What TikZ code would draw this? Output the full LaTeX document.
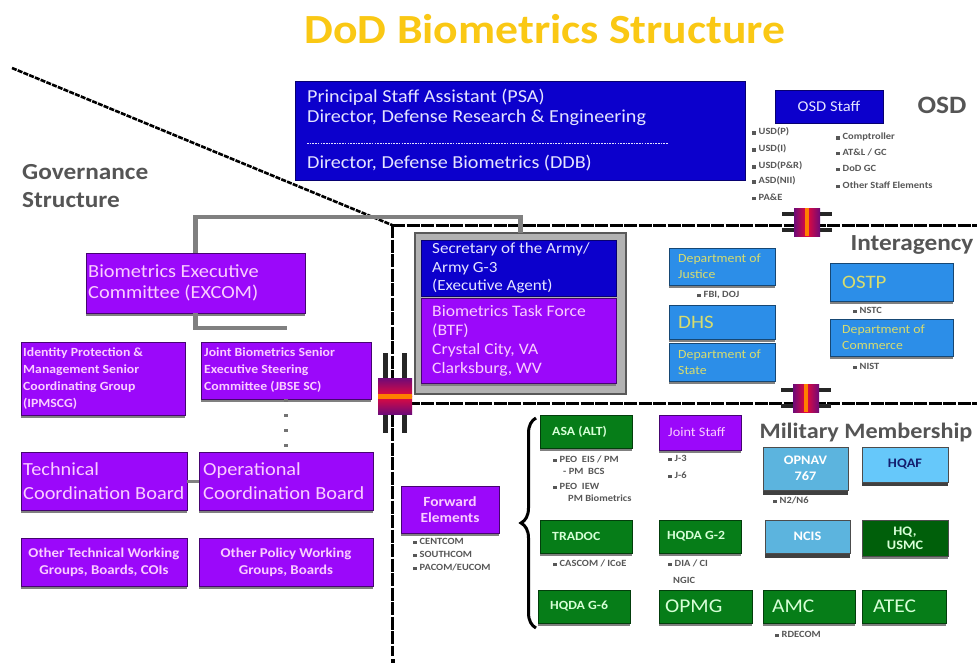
\documentclass[tikz,border=0pt]{standalone}
\usepackage{fontspec}
\setmainfont{Carlito}[FakeStretch=1.1]
\usetikzlibrary{shadows,decorations.pathreplacing,calc}
\definecolor{dodblue}{RGB}{12,0,204}
\definecolor{lav}{RGB}{228,228,255}
\definecolor{purp}{RGB}{155,8,250}
\definecolor{pinkt}{RGB}{250,205,255}
\definecolor{midblue}{RGB}{44,142,232}
\definecolor{yelt}{RGB}{215,220,110}
\definecolor{ltblue}{RGB}{92,180,222}
\definecolor{hqafblue}{RGB}{102,200,250}
\definecolor{navyt}{RGB}{20,30,110}
\definecolor{grn}{RGB}{6,125,24}
\definecolor{dgrn}{RGB}{0,95,10}
\definecolor{grnt}{RGB}{215,255,215}
\definecolor{titley}{RGB}{250,200,20}
\definecolor{lblgray}{RGB}{85,85,85}
\newcommand\fsz[2]{\fontsize{#1}{#2}\selectfont}
% #1 text options, #2 name, #3 box style, #4 x, #5 y, #6 w, #7 h, #8 pad (0 = centred), #9 text
\newcommand\bx[9][]{%
  \node[#3, minimum width=#6pt, minimum height=#7pt] (#2) at (#4,#5) {};
  \ifdim #8pt=0pt
    \node[#3 t, txt, align=center, #1] (#2t) at (#2.center) {#9};
  \else
    \node[#3 t, txt, anchor=west, align=left, #1] (#2t) at ([xshift=#8pt]#2.west) {#9};
  \fi}
\newcommand\bl[4]{\node[bul] (#1) at (#2,#3) {\rule{3.5pt}{3.5pt}\hspace{3pt}#4};}
\newcommand\blc[4]{\node[bul] (#1) at (#2,#3) {#4};}
\tikzset{
  txt/.style={inner sep=0pt},
  box/.style={anchor=north west, inner sep=0pt, outer sep=0pt, line width=0.8pt},
  shad/.style={drop shadow={shadow xshift=0pt, shadow yshift=-3pt, opacity=1, fill=black!50}},
  bluebox/.style={box, fill=dodblue, draw=dodblue!55!black},
  bluebox t/.style={text=lav},
  purpbox/.style={box, fill=purp, draw=purp!45!black, shad},
  purpbox t/.style={text=pinkt},
  midbox/.style={box, fill=midblue, draw=midblue!50!black, shad},
  midbox t/.style={text=yelt},
  ltbox/.style={box, fill=ltblue, draw=black!70, drop shadow={shadow xshift=0pt, shadow yshift=-5pt, opacity=1, fill=black!75}},
  ltbox t/.style={text=white},
  hqafbox/.style={box, fill=hqafblue, draw=black!70, drop shadow={shadow xshift=0pt, shadow yshift=-4pt, opacity=1, fill=black!75}},
  hqafbox t/.style={text=navyt},
  grnbox/.style={box, fill=grn, draw=grn!50!black, shad},
  grnbox t/.style={text=grnt},
  dgrnbox/.style={box, fill=dgrn, draw=black!70, shad},
  dgrnbox t/.style={text=grnt},
  bul/.style={anchor=west, inner sep=0pt, text=black!66, font=\fsz{9.5}{10}\bfseries},
  lbl/.style={inner sep=0pt, text=lblgray, font=\fsz{23}{28}\bfseries},
  govline/.style={line width=3pt, black, dash pattern=on 13pt off 1.5pt},
  diagline/.style={line width=2.6pt, black, dash pattern=on 5pt off 1.2pt},
  conn/.style={line width=4.5pt, black!50},
  couplerH/.pic={
    \fill[black!85] (-12,-43) rectangle (-7,37);
    \fill[black!85] (7,-43) rectangle (12,37);
    \shade[top color={rgb,255:red,110;green,10;blue,120}, bottom color={rgb,255:red,230;green,10;blue,60}] (-17,-18) rectangle (17,0);
    \shade[top color={rgb,255:red,230;green,10;blue,60}, bottom color={rgb,255:red,110;green,10;blue,120}] (-17,0) rectangle (17,18);
    \fill[orange] (-17,-2.5) rectangle (17,2.5);
  },
  couplerV/.pic={
    \fill[black!85] (-25,-10) rectangle (25,-6);
    \fill[black!85] (-25,6) rectangle (25,10);
    \shade[left color={rgb,255:red,110;green,10;blue,120}, right color={rgb,255:red,230;green,10;blue,60}] (-13,-14) rectangle (0,14);
    \shade[left color={rgb,255:red,230;green,10;blue,60}, right color={rgb,255:red,110;green,10;blue,120}] (0,-14) rectangle (13,14);
    \fill[orange] (-2,-14) rectangle (2,14);
  }
}
\begin{document}
\begin{tikzpicture}[x=1pt,y=-1pt]
\useasboundingbox (0,0) rectangle (977,664);
\fill[white] (0,0) rectangle (977,664);

% title
\node[font=\fsz{41.5}{44}\bfseries, text=titley, inner sep=0pt] (title) at (545,29) {DoD Biometrics Structure};

% governance lines
\coordinate (d0) at (12,68);
\coordinate (d1) at (392,225);
\coordinate (h1) at (977,225);
\coordinate (v1) at (392,656);
\coordinate (m0) at (392,403);
\coordinate (m1) at (977,403);
\draw[diagline] (d0) -- (d1);
\draw[govline] (d1) -- (h1);
\draw[govline] (d1) -- (v1);
\draw[govline] (m0) -- (m1);
\fill (391,659) rectangle (395,663);

% PSA
\node[bluebox, minimum width=450pt, minimum height=99pt] (psa) at (295,81) {};
\node[anchor=west, inner sep=0pt, text=lav, font=\fsz{18.3}{21}] (psa1) at (307,97) {Principal Staff Assistant (PSA)};
\node[anchor=west, inner sep=0pt, text=lav, font=\fsz{18.3}{21}] (psa2) at (307,118) {Director, Defense Research \& Engineering};
\node[anchor=west, inner sep=0pt, text=lav, font=\fsz{18.3}{21}] (ddb) at (307,163) {Director, Defense Biometrics (DDB)};
\coordinate (s0) at (307,143);
\coordinate (s1) at (668,143);
\draw[lav, line width=0.8pt, dash pattern=on 1.6pt off 1.1pt] (s0) -- (s1);

% OSD staff
\bx[font=\fsz{15}{17}]{osds}{bluebox}{775}{90}{108}{33}{0}{OSD Staff}
\node[lbl, font=\fsz{25}{28}\bfseries] (osd) at (942,105) {OSD};
\bl{o1}{752}{132}{USD(P)}
\bl{o2}{752}{149}{USD(I)}
\bl{o3}{752}{166}{USD(P\&R)}
\bl{o4}{752}{181}{ASD(NII)}
\bl{o5}{752}{197}{PA\&E}
\bl{o6}{836}{137}{Comptroller}
\bl{o7}{836}{152}{AT\&L / GC}
\bl{o8}{836}{168}{DoD GC}
\bl{o9}{836}{185}{Other Staff Elements}

% Army
\node[box, fill=black!30, draw=black!65, line width=1.5pt, minimum width=211pt, minimum height=161pt] (frame) at (415,233) {};
\bx[font=\fsz{15.5}{18.5}]{army}{bluebox}{421}{240}{195}{56}{11}{Secretary of the Army/\\Army G-3\\(Executive Agent)}
\bx[font=\fsz{16}{19}]{btf}{purpbox}{421}{298}{195}{85}{11}{Biometrics Task Force\\(BTF)\\Crystal City, VA\\Clarksburg, WV}

% Interagency
\node[lbl] (inter) at (912,245) {Interagency};
\bx[font=\fsz{12.5}{16}]{doj}{midbox}{669}{248}{106}{37}{9}{Department of\\Justice}
\bx[font=\fsz{19}{21}]{dhs}{midbox}{669}{305}{106}{34}{9}{DHS}
\bx[font=\fsz{12.5}{16}]{dos}{midbox}{669}{343}{106}{38}{9}{Department of\\State}
\bx[font=\fsz{19}{21}]{ostp}{midbox}{830}{263}{123}{38}{12}{OSTP}
\bx[font=\fsz{12.5}{16}]{doc}{midbox}{830}{319}{123}{37}{12}{Department of\\Commerce}
\bl{i1}{697}{295}{FBI, DOJ}
\bl{i2}{853}{310}{NSTC}
\bl{i3}{853}{366}{NIST}

% Military membership
\node[lbl, font=\fsz{22}{26}\bfseries] (mil) at (866,433) {Military Membership};
\bx[font=\fsz{12.5}{14}\bfseries]{asa}{grnbox}{540}{415}{92}{33}{12}{ASA (ALT)}
\bx[font=\fsz{13}{15}]{js}{purpbox}{659}{415}{82}{35}{9}{Joint Staff}
\bx[font=\fsz{13}{16}\bfseries]{opnav}{ltbox}{763}{447}{85}{43}{0}{OPNAV\\767}
\bx[font=\fsz{13}{15}\bfseries]{hqaf}{hqafbox}{862}{447}{86}{35}{0}{HQAF}
\bx[font=\fsz{14}{16}\bfseries]{fwd}{purpbox}{401}{486}{98}{47}{0}{Forward\\Elements}
\bx[font=\fsz{12.5}{14}\bfseries]{tradoc}{grnbox}{540}{520}{92}{33}{12}{TRADOC}
\bx[font=\fsz{12.5}{14}\bfseries]{g2}{grnbox}{659}{520}{82}{33}{8}{HQDA G-2}
\bx[font=\fsz{13}{15}\bfseries]{ncis}{ltbox}{765}{520}{85}{33}{0}{NCIS}
\bx[font=\fsz{13}{14}\bfseries]{usmc}{dgrnbox}{862}{520}{86}{36}{0}{HQ,\\USMC}
\bx[font=\fsz{12.5}{14}\bfseries]{g6}{grnbox}{538}{590}{92}{33}{12}{HQDA G-6}
\bx[font=\fsz{19.5}{22}]{opmg}{grnbox}{659}{590}{93}{33}{6}{OPMG}
\bx[font=\fsz{19.5}{22}]{amc}{grnbox}{763}{590}{92}{33}{9}{AMC}
\bx[font=\fsz{19.5}{22}]{atec}{grnbox}{862}{590}{84}{33}{11}{ATEC}
\bl{a1}{553}{459}{PEO\ \ EIS / PM}
\blc{a2}{563}{471}{- PM\ \ BCS}
\bl{a3}{553}{486}{PEO\ \ IEW}
\blc{a4}{568}{498}{PM Biometrics}
\bl{j1}{668}{458}{J-3}
\bl{j2}{668}{475}{J-6}
\bl{n1}{773}{500}{N2/N6}
\bl{f1}{413}{541}{CENTCOM}
\bl{f2}{413}{554}{SOUTHCOM}
\bl{f3}{413}{567}{PACOM/EUCOM}
\bl{t1}{553}{563}{CASCOM / ICoE}
\bl{g21}{668}{563}{DIA / CI}
\blc{g22}{673}{580}{NGIC}
\bl{am1}{775}{634}{RDECOM}

% brace
\coordinate (br0) at (536,628);
\coordinate (br1) at (536,418);
\draw[decorate, decoration={brace, amplitude=15pt}, line width=3pt] (br0) -- (br1);

% Governance
\node[lbl, anchor=west, align=left] (gov) at (22,186) {Governance\\Structure};
\bx[font=\fsz{18.5}{21.5}]{excom}{purpbox}{86}{253}{219}{60}{2}{Biometrics Executive\\Committee (EXCOM)}
\bx[font=\fsz{12.5}{17}\bfseries]{ipm}{purpbox}{21}{342}{164}{73}{2}{Identity Protection \&\\Management Senior\\Coordinating Group\\(IPMSCG)}
\bx[font=\fsz{12.5}{17}\bfseries]{jbse}{purpbox}{201}{342}{170}{57}{3}{Joint Biometrics Senior\\Executive Steering\\Committee (JBSE SC)}
\bx[font=\fsz{18.5}{24}]{tech}{purpbox}{21}{452}{166}{58}{2}{Technical\\Coordination Board}
\bx[font=\fsz{18.5}{24}]{oper}{purpbox}{199}{452}{174}{58}{4}{Operational\\Coordination Board}
\bx[font=\fsz{13.5}{17}\bfseries]{oth1}{purpbox}{21}{538}{166}{48}{0}{Other Technical Working\\Groups, Boards, COIs}
\bx[font=\fsz{13.5}{17}\bfseries]{oth2}{purpbox}{199}{538}{174}{48}{0}{Other Policy Working\\Groups, Boards}

% gray connectors
\coordinate (ex1) at (287,328);
\draw[conn] (excom.north) -- ++(0,-36) -| (frame.north);
\draw[conn] (excom.south) |- (ex1);
\draw[conn, line width=3pt] (tech.east) -- (oper.west);
\draw[black!55, line width=3.5pt, dash pattern=on 3pt off 12pt] (jbse.south) -- (oper.north);

% couplers
\pic (c1) at (395,396) {couplerH};
\pic (c2) at (807,222) {couplerV};
\pic (c3) at (806,398) {couplerV};
\end{tikzpicture}
\end{document}
